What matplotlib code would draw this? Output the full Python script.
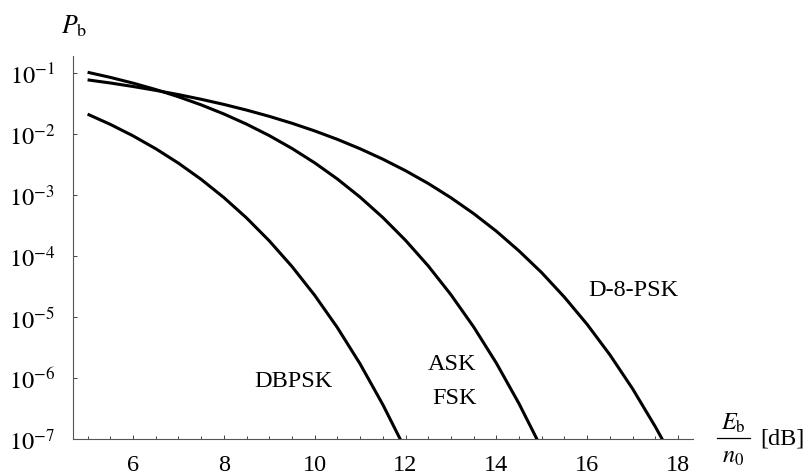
import matplotlib
matplotlib.use("Agg")
import matplotlib.pyplot as plt
from matplotlib.ticker import FixedLocator, NullLocator, FixedFormatter
from matplotlib.lines import Line2D

# ---- data ----
x_dbpsk = [5, 5.5, 6, 6.5, 7, 7.5, 8, 8.5, 9, 9.5, 10, 10.5, 11, 11.5, 11.9]
y_dbpsk = [2.116e-2, 1.439e-2, 9.33e-3, 5.74e-3, 3.33e-3, 1.806e-3, 9.09e-4,
           4.21e-4, 1.775e-4, 6.73e-5, 2.27e-5, 6.70e-6, 1.704e-6, 3.67e-7, 9.4e-8]

x_askfsk = [5, 5.5, 6, 6.5, 7, 7.5, 8, 8.5, 9, 9.5, 10, 10.5, 11, 11.5, 12,
            12.5, 13, 13.5, 14, 14.5, 14.9]
y_askfsk = [0.1029, 0.0848, 0.0683, 0.0536, 0.0408, 0.03005, 0.02132, 0.01451,
            0.00942, 0.0058, 0.003369, 0.00183, 9.23e-4, 4.28e-4, 1.808e-4,
            6.88e-5, 2.32e-5, 6.88e-6, 1.756e-6, 3.79e-7, 9.74e-8]

x_d8psk = [5, 5.5, 6, 6.5, 7, 7.5, 8, 8.5, 9, 9.5, 10, 10.5, 11, 11.5, 12,
           12.5, 13, 13.5, 14, 14.5, 15, 15.5, 16, 16.5, 17, 17.5, 17.7]
y_d8psk = [0.0772, 0.0686, 0.0601, 0.05195, 0.04427, 0.0371, 0.03056, 0.02467,
           0.01948, 0.01501, 0.01124, 0.00817, 0.00573, 0.00387, 0.002504,
           0.001546, 9.02e-4, 4.96e-4, 2.55e-4, 1.21e-4, 5.32e-5, 2.11e-5,
           7.56e-6, 2.40e-6, 6.66e-7, 1.59e-7, 8.57e-8]

x_major = [6, 8, 10, 12, 14, 16, 18]
x_minor = [5, 5.5, 6.5, 7, 7.5, 8.5, 9, 9.5, 10.5, 11, 11.5, 12.5, 13, 13.5,
           14.5, 15, 15.5, 16.5, 17, 17.5]
y_major = [1e-7, 1e-6, 1e-5, 1e-4, 1e-3, 1e-2, 1e-1]
y_labels = ["$10^{-7}$", "$10^{-6}$", "$10^{-5}$", "$10^{-4}$", "$10^{-3}$",
            "$10^{-2}$", "$10^{-1}$"]

# ---- figure ----
plt.rcParams['font.family'] = ['Liberation Serif', 'DejaVu Serif']
plt.rcParams['mathtext.fontset'] = 'stix'
FS = 17.5

W, H = 808, 477
fig = plt.figure(figsize=(W / 100, H / 100), dpi=100)
ax = fig.add_axes([73 / W, 1 - 440 / H, (693 - 73) / W, (440 - 57) / H])

for xs, ys in [(x_dbpsk, y_dbpsk), (x_askfsk, y_askfsk), (x_d8psk, y_d8psk)]:
    ax.plot(xs, ys, color='black', lw=2.2, solid_joinstyle='round',
            solid_capstyle='butt')

ax.set_yscale('log')
ax.set_xlim(4.679, 18.33)
ax.set_ylim(1e-7, 0.19)

ax.xaxis.set_major_locator(FixedLocator(x_major))
ax.xaxis.set_minor_locator(FixedLocator(x_minor))
ax.yaxis.set_major_locator(FixedLocator(y_major))
ax.yaxis.set_major_formatter(FixedFormatter(y_labels))
ax.yaxis.set_minor_locator(NullLocator())

ax.tick_params(axis='x', which='major', direction='in', length=3.2, width=0.7,
               color='#444444', labelsize=FS, pad=10.5)
ax.tick_params(axis='x', which='minor', direction='in', length=2.0, width=0.7,
               color='#444444')
ax.tick_params(axis='y', which='major', direction='in', length=3.2, width=0.7,
               color='#444444', labelsize=FS, pad=13)

for s in ['top', 'right']:
    ax.spines[s].set_visible(False)
for s in ['left', 'bottom']:
    ax.spines[s].set_color('#555555')
    ax.spines[s].set_linewidth(0.8)

def fx(px):
    return px / W

def fy(py):
    return 1 - py / H

# curve labels
fig.text(fx(254), fy(387), "DBPSK", fontsize=FS, ha='left', va='baseline')
fig.text(fx(428), fy(370), "ASK", fontsize=FS, ha='left', va='baseline')
fig.text(fx(432), fy(404), "FSK", fontsize=FS, ha='left', va='baseline')
fig.text(fx(588), fy(296), "D-8-PSK", fontsize=FS, ha='left', va='baseline')

# axis labels
fig.text(fx(61), fy(33), r"$P_{\mathrm{b}}$", fontsize=FS + 1, ha='left',
         va='baseline')
fig.text(fx(733), fy(430), r"$E_{\mathrm{b}}$", fontsize=FS, ha='center',
         va='baseline')
fig.add_artist(Line2D([fx(717), fx(750)], [fy(439), fy(439)], color='black',
                      lw=0.9, transform=fig.transFigure))
fig.text(fx(733), fy(463), r"$n_0$", fontsize=FS, ha='center', va='baseline')
fig.text(fx(760), fy(439), "[dB]", fontsize=FS, ha='left', va='center')

fig.savefig("out.png", dpi=100)
